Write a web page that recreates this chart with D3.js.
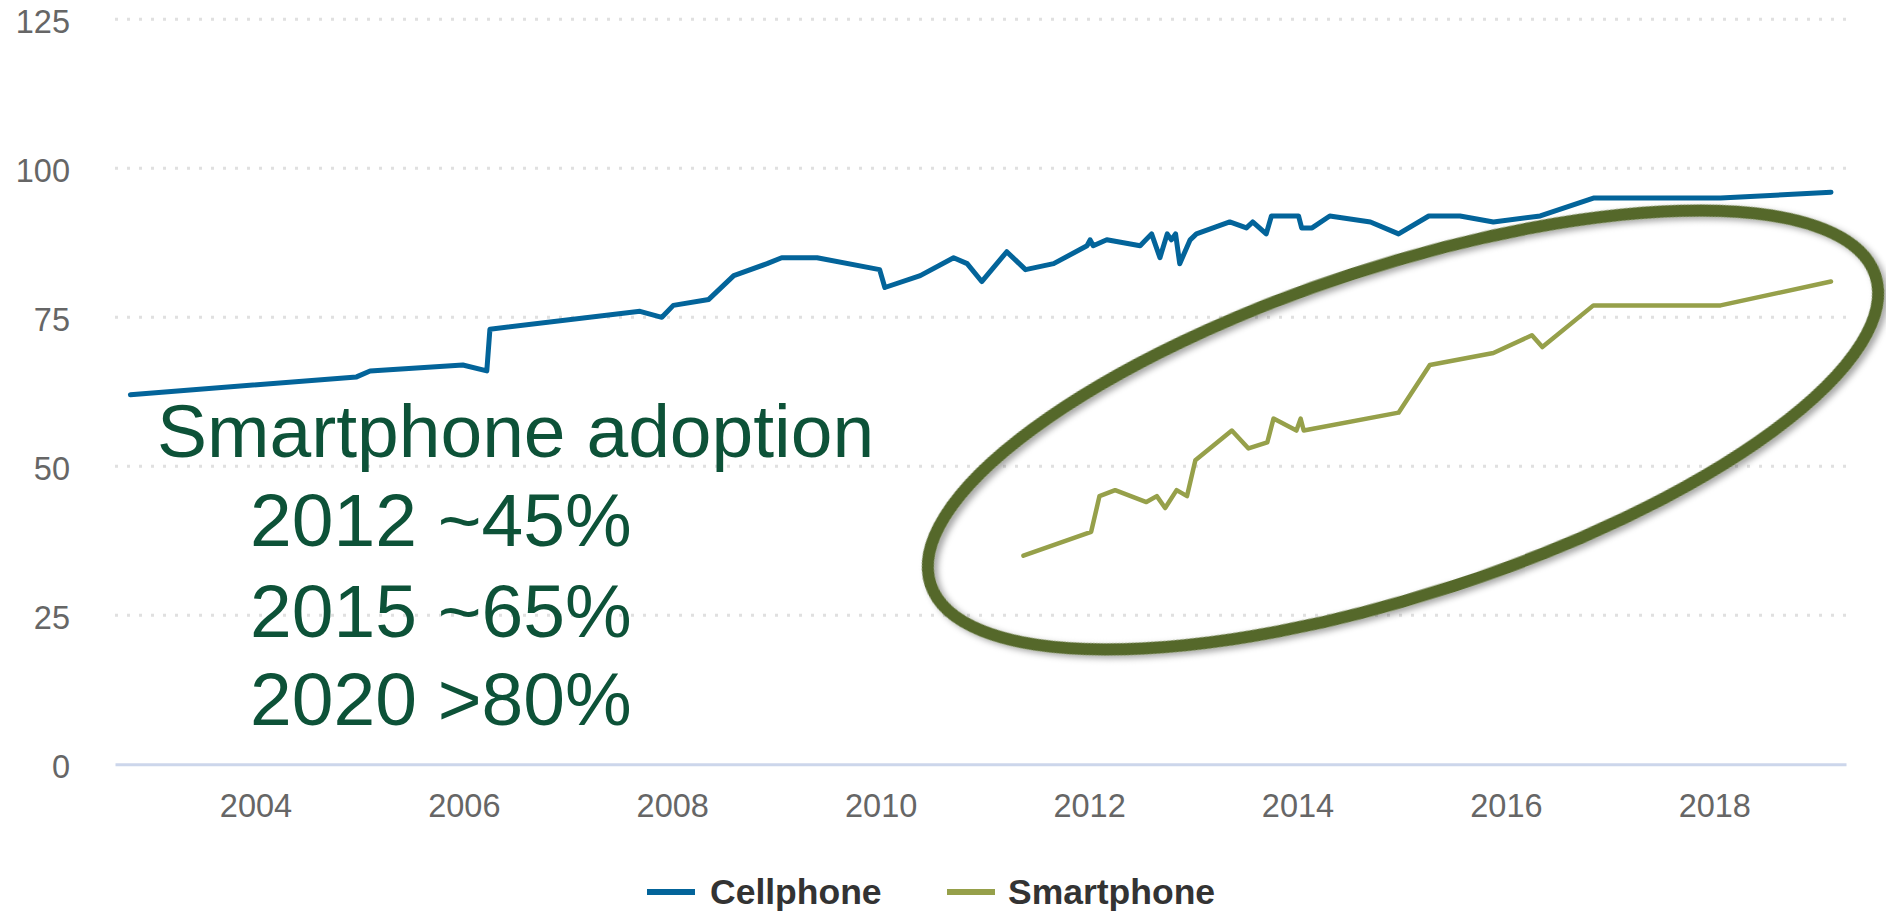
<!DOCTYPE html>
<html>
<head>
<meta charset="utf-8">
<script src="https://cdn.jsdelivr.net/npm/d3@7"></script>
<style>
  body { margin: 0; background: #ffffff; }
  svg { display: block; }
</style>
</head>
<body>
<svg id="chart" width="1886" height="912"></svg>
<script>
// ---------- DATA ----------
const seriesNames = ["Cellphone", "Smartphone"];

const cellphoneDates = [2002.80, 2004.97, 2005.10, 2005.99, 2006.22, 2006.25, 2007.69, 2007.90, 2008.01, 2008.35,
  2008.59, 2008.91, 2009.05, 2009.39, 2009.99, 2010.04, 2010.38, 2010.70, 2010.83, 2010.97,
  2011.21, 2011.39, 2011.66, 2011.98, 2012.01, 2012.04, 2012.17, 2012.49, 2012.60, 2012.68,
  2012.75, 2012.79, 2012.83, 2012.87, 2012.97, 2013.03, 2013.35, 2013.51, 2013.57, 2013.70,
  2013.75, 2014.01, 2014.04, 2014.14, 2014.31, 2014.70, 2014.97, 2015.26, 2015.56, 2015.88,
  2016.33, 2016.84, 2018.06, 2019.12];
const cellphoneValues = [62, 65, 66, 67, 66, 73, 76, 75, 77, 78,
  82, 84, 85, 85, 83, 80, 82, 85, 84, 81,
  86, 83, 84, 87, 88, 87, 88, 87, 89, 85,
  89, 88, 89, 84, 88, 89, 91, 90, 91, 89,
  92, 92, 90, 90, 92, 91, 89, 92, 92, 91,
  92, 95, 95, 96];

const smartphoneDates = [2011.37, 2012.02, 2012.10, 2012.25, 2012.55, 2012.65, 2012.73, 2012.84, 2012.94, 2013.02,
  2013.37, 2013.53, 2013.71, 2013.77, 2013.99, 2014.03, 2014.06, 2014.97, 2015.27, 2015.88,
  2016.25, 2016.35, 2016.84, 2018.06, 2019.12];
const smartphoneValues = [35, 39, 45, 46, 44, 45, 43, 46, 45, 51,
  56, 53, 54, 58, 56, 58, 56, 59, 67, 69,
  72, 70, 77, 77, 81];

const yTicks = [0, 25, 50, 75, 100, 125];
const xTicks = [2004, 2006, 2008, 2010, 2012, 2014, 2016, 2018];

const annotationLines = ["Smartphone adoption", "2012 ~45%", "2015 ~65%", "2020 >80%"];

// ---------- LAYOUT ----------
const plotLeft = 115, plotRight = 1846, plotBottom = 764.3, plotTop = 19.3;
const colors = { Cellphone: "#03649a", Smartphone: "#96a04a" };
const font = "'Liberation Sans', Arial, sans-serif";

const svg = d3.select("#chart");

const x = d3.scaleLinear().domain([2002.652, 2019.264]).range([plotLeft, plotRight]);
const y = d3.scaleLinear().domain([0, 125]).range([plotBottom, plotTop]);

// gridlines (dotted)
svg.append("g")
  .selectAll("line")
  .data(yTicks.filter(d => d > 0))
  .join("line")
  .attr("x1", plotLeft).attr("x2", plotRight)
  .attr("y1", d => y(d)).attr("y2", d => y(d))
  .attr("stroke", "#e0e0e0")
  .attr("stroke-width", 3)
  .attr("stroke-dasharray", "3,9");

// y axis labels
const yAxis = svg.append("g")
  .attr("transform", `translate(${plotLeft},0)`)
  .call(d3.axisLeft(y).tickValues(yTicks).tickSize(0).tickPadding(45).tickFormat(d3.format("d")));
yAxis.select(".domain").remove();
yAxis.selectAll("text")
  .attr("dy", "0.42em")
  .attr("fill", "#666666")
  .style("font-family", font)
  .style("font-size", "32.5px");

// x axis
const xAxis = svg.append("g")
  .attr("transform", `translate(0,${plotBottom})`)
  .call(d3.axisBottom(x).tickValues(xTicks).tickSize(0).tickPadding(30).tickFormat(d3.format("d")));
xAxis.select(".domain")
  .attr("stroke", "#ccd6eb")
  .attr("stroke-width", 3);
xAxis.selectAll("text")
  .attr("fill", "#666666")
  .style("font-family", font)
  .style("font-size", "32.5px");

// lines
const line = d3.line().x(d => x(d[0])).y(d => y(d[1]));
const series = [
  { name: "Cellphone", data: d3.zip(cellphoneDates, cellphoneValues), width: 5 },
  { name: "Smartphone", data: d3.zip(smartphoneDates, smartphoneValues), width: 4.5 }
];
svg.append("g")
  .selectAll("path")
  .data(series)
  .join("path")
  .attr("d", d => line(d.data))
  .attr("fill", "none")
  .attr("stroke", d => colors[d.name])
  .attr("stroke-width", d => d.width)
  .attr("stroke-linejoin", "round")
  .attr("stroke-linecap", "round");

// legend
const legendItems = [
  { name: seriesNames[0], lx: 647, tx: 710 },
  { name: seriesNames[1], lx: 947, tx: 1008 }
];
const lg = svg.append("g").selectAll("g").data(legendItems).join("g");
lg.append("line")
  .attr("x1", d => d.lx).attr("x2", d => d.lx + 48)
  .attr("y1", 892).attr("y2", 892)
  .attr("stroke", d => colors[d.name])
  .attr("stroke-width", 6);
lg.append("text")
  .attr("x", d => d.tx).attr("y", 904)
  .attr("fill", "#333333")
  .style("font-family", font)
  .style("font-size", "35.5px")
  .style("font-weight", "bold")
  .text(d => d.name);

// annotation text
const annX = [157, 250, 250, 250];
const annY = [457, 546, 637, 725];
svg.append("g")
  .selectAll("text")
  .data(annotationLines)
  .join("text")
  .attr("x", (d, i) => annX[i])
  .attr("y", (d, i) => annY[i])
  .attr("fill", "#0d5238")
  .style("font-family", font)
  .style("font-size", "75px")
  .text(d => d);

// ellipse highlight with shadow
const defs = svg.append("defs");
const f = defs.append("filter").attr("id", "shadow")
  .attr("x", "-20%").attr("y", "-20%").attr("width", "140%").attr("height", "140%");
f.append("feDropShadow")
  .attr("dx", 3).attr("dy", 4).attr("stdDeviation", 3)
  .attr("flood-color", "#000000").attr("flood-opacity", 0.35);

svg.append("ellipse")
  .attr("cx", 0).attr("cy", 0)
  .attr("rx", 497).attr("ry", 164)
  .attr("transform", "translate(1403,430) rotate(-18.1)")
  .attr("fill", "none")
  .attr("stroke", "#55682c")
  .attr("stroke-width", 12)
  .attr("filter", "url(#shadow)");
</script>
</body>
</html>
